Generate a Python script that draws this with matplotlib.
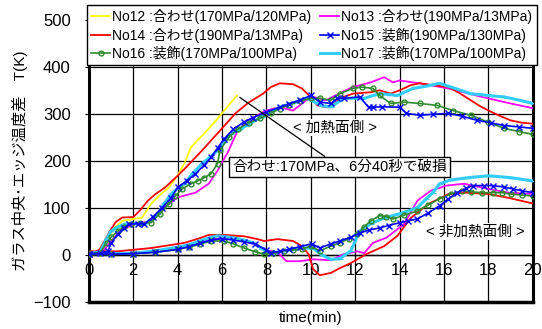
import numpy as np
import matplotlib
matplotlib.use("Agg")
import matplotlib.pyplot as plt

plt.rcParams["font.family"] = ["Liberation Sans", "Noto Sans CJK JP", "DejaVu Sans"]

# --- measured temperature differences (time in min, dT in K) ---
# each specimen: heated-side curve (upper) and unheated-side curve (lower)
no12_hot_t = [0, 0.5, 0.9, 1.2, 1.5, 2.0, 2.4, 2.8, 3.2, 3.6, 4.0, 4.3, 4.6, 5.2, 5.6, 6.0, 6.4, 6.67]
no12_hot_v = [4, 8, 40, 60, 73, 77, 80, 109, 128, 144, 170, 195, 230, 259, 280, 302, 325, 340]
no12_cold_t = [0, 2, 4, 5, 6, 6.67]
no12_cold_v = [3, 4, 15, 28, 38, 38]

no13_hot_t = [0, 0.6, 1.0, 1.5, 2.1, 2.8, 3.4, 4.0, 4.8, 5.4, 5.8, 6.3, 6.67, 7.2, 8.0, 8.6, 9.2, 9.8,
              10.1, 10.7, 11.3, 11.9, 12.7, 13.3, 13.7, 14.0, 14.9, 16.2, 17.7, 19.0, 20]
no13_hot_v = [4, 6, 30, 55, 66, 73, 101, 123, 133, 152, 180, 223, 262, 288, 308, 315, 308, 330,
              337, 330, 345, 358, 368, 379, 368, 372, 366, 355, 337, 323, 313]
no13_cold_t = [0, 2, 4, 5, 6, 6.5, 7.0, 7.5, 8.0, 8.5, 8.9, 9.5, 10.1, 10.9, 11.5, 12.1, 12.4, 12.8,
               13.4, 14.2, 14.8, 15.4, 16.1, 16.9, 18.0, 18.9, 20]
no13_cold_v = [3, 4, 15, 28, 37, 34, 30, 22, 10, 6, -13, -13, -9, -11, 2, 8, 4, 26,
               37, 66, 116, 137, 148, 152, 141, 133, 130]

no14_hot_t = [0, 0.3, 0.5, 0.95, 1.2, 1.5, 2.0, 2.3, 2.66, 3.0, 3.43, 4.0, 4.4, 4.8, 5.2, 5.5, 6.0, 6.6,
              7.2, 7.85, 8.2, 8.6, 9.2, 9.6, 10.0, 10.3, 10.7, 10.9, 11.3, 11.9, 12.7, 13.1, 13.6,
              14.0, 14.5, 14.9, 15.5, 16.2, 16.7, 17.2, 17.6, 18.0, 18.5, 19.0, 19.5, 20]
no14_hot_v = [5, 6, 13, 51, 70, 80, 81, 95, 116, 130, 144, 169, 188, 208, 228, 244, 270, 302,
              325, 344, 358, 366, 364, 355, 336, 319, 315, 315, 334, 344, 347, 351, 344,
              351, 362, 366, 362, 358, 345, 330, 318, 308, 297, 287, 282, 280]
no14_cold_t = [0, 1.3, 2.8, 4.3, 5.0, 5.4, 6.1, 7.0, 7.6, 7.9, 8.5, 9.2, 9.6, 9.9, 10.1, 10.4, 10.9,
               11.3, 11.8, 12.5, 13.3, 13.9, 14.5, 15.3, 16.2, 17.0, 18.0, 18.9, 20]
no14_cold_v = [8, 8, 15, 26, 36, 43, 43, 40, 34, 30, 34, 30, 19, 2, -30, -43, -38,
               -28, -17, 2, 19, 41, 79, 109, 130, 133, 130, 122, 110]

no15_hot_t = [0, 0.5, 0.85, 1.0, 1.3, 1.6, 1.8, 2.2, 2.5, 2.9, 3.3, 3.7, 4.0, 4.4, 4.8, 5.2, 5.5, 5.8,
              6.1, 6.5, 7.0, 7.4, 8.0, 8.6, 9.0, 9.5, 10.0, 10.4, 10.9, 11.2, 11.5, 12.2, 12.6,
              12.8, 13.2, 14.0, 14.3, 14.9, 15.5, 16.2, 16.8, 17.5, 18.1, 18.7, 19.4, 20]
no15_hot_v = [3, 4, 8, 25, 45, 58, 66, 67, 66, 82, 101, 122, 144, 158, 173, 192, 208, 228,
              248, 268, 284, 293, 305, 315, 322, 330, 340, 326, 323, 334, 334, 337, 315,
              315, 316, 315, 302, 298, 300, 302, 296, 287, 282, 276, 273, 270]
no15_cold_t = [0, 1, 2, 3, 4, 4.5, 5, 5.5, 6, 6.5, 7, 7.5, 8, 8.2, 8.6, 9, 9.5, 10.05, 10.4, 10.9,
               11.3, 11.8, 12.2, 12.6, 13.1, 13.5, 14.0, 14.4, 14.8, 15.3, 15.8, 16.2, 16.6,
               17.0, 17.3, 17.8, 18.2, 18.7, 19.1, 19.5, 20]
no15_cold_v = [3, 2, 3, 6, 12, 18, 25, 32, 35, 32, 28, 24, 10, 5, 8, 12, 18, 24, 15, 24,
               30, 38, 47, 53, 58, 63, 69, 73, 77, 90, 105, 120, 133,
               142, 148, 148, 148, 145, 141, 137, 133]

no16_hot_t = [0, 0.5, 0.8, 1.0, 1.3, 1.6, 1.9, 2.3, 2.8, 3.2, 3.6, 3.9, 4.2, 4.6, 4.9, 5.2, 5.5, 5.8,
              5.9, 6.3, 6.7, 7.2, 7.7, 8.2, 8.6, 9.0, 9.5, 10.0, 10.4, 10.9, 11.3, 11.9, 12.3,
              12.8, 13.1, 13.6, 14.2, 14.9, 15.7, 16.4, 17.2, 18.0, 18.7, 19.4, 20]
no16_hot_v = [3, 5, 25, 38, 51, 60, 66, 68, 69, 88, 109, 126, 141, 152, 158, 165, 173, 195,
              223, 251, 268, 282, 291, 302, 312, 320, 328, 334, 334, 330, 344, 355, 358,
              355, 340, 323, 326, 323, 319, 308, 298, 283, 270, 263, 257]
no16_cold_t = [0, 1, 2, 3, 4, 4.5, 5, 5.5, 6.1, 6.5, 7.0, 7.5, 7.9, 8.3, 8.8, 9.2, 9.6, 10.0, 10.4,
               10.9, 11.3, 11.7, 12.1, 12.4, 12.7, 13.1, 13.4, 13.7, 14.2, 14.8, 15.3, 15.8,
               16.3, 16.8, 17.2, 17.7, 18.2, 18.6, 19.0, 19.5, 20]
no16_cold_v = [3, 2, 3, 6, 12, 17, 23, 30, 30, 24, 15, 7, 2, 4, 9, 11, 13, 19, 9,
               19, 26, 35, 45, 60, 73, 84, 82, 77, 85, 94, 107, 120,
               130, 137, 135, 133, 133, 133, 130, 128, 126]

no17_hot_t = [0, 0.5, 0.8, 1.0, 1.3, 1.6, 2.0, 2.5, 3.1, 3.4, 3.7, 4.0, 4.3, 4.7, 5.1, 5.5, 5.8, 6.1,
              6.4, 6.8, 7.1, 7.8, 8.6, 9.2, 9.8, 10.0, 10.5, 10.9, 11.5, 12.4, 13.1, 13.9, 14.6,
              15.2, 15.8, 16.5, 17.2, 18.0, 18.7, 19.4, 20]
no17_hot_v = [4, 6, 35, 51, 60, 66, 67, 66, 87, 110, 130, 142, 152, 175, 195, 210, 223, 240,
              259, 268, 276, 295, 315, 324, 334, 330, 318, 316, 334, 334, 344, 340, 355,
              360, 366, 355, 344, 340, 337, 330, 323]
no17_cold_t = [0, 1, 2, 3, 4, 4.5, 5, 5.5, 5.8, 6.2, 6.6, 7.0, 7.4, 7.8, 8.2, 8.8, 9.2, 9.6, 10.1,
               10.5, 10.9, 11.3, 11.8, 12.2, 12.7, 13.3, 14.0, 14.8, 15.2, 15.5, 15.8, 16.3,
               17.1, 18.0, 19.0, 20]
no17_cold_v = [3, 3, 4, 9, 17, 22, 30, 38, 41, 39, 36, 32, 26, 14, 4, 9, 12, 15, 15,
               0, -9, -8, 9, 51, 67, 79, 88, 101, 120, 133, 152, 160,
               165, 169, 165, 158]

labels = [
    "No12 :合わせ(170MPa/120MPa)",
    "No13 :合わせ(190MPa/13MPa)",
    "No14 :合わせ(190MPa/13MPa)",
    "No15 :装飾(190MPa/130MPa)",
    "No16 :装飾(170MPa/100MPa)",
    "No17 :装飾(170MPa/100MPa)",
]

series = [
    (no12_hot_t, no12_hot_v, no12_cold_t, no12_cold_v),
    (no13_hot_t, no13_hot_v, no13_cold_t, no13_cold_v),
    (no14_hot_t, no14_hot_v, no14_cold_t, no14_cold_v),
    (no15_hot_t, no15_hot_v, no15_cold_t, no15_cold_v),
    (no16_hot_t, no16_hot_v, no16_cold_t, no16_cold_v),
    (no17_hot_t, no17_hot_v, no17_cold_t, no17_cold_v),
]

styles = [
    dict(color="#FFFF00", lw=1.3, zorder=3),
    dict(color="#FF00FF", lw=1.3, zorder=3),
    dict(color="#FF0000", lw=1.3, zorder=4),
    dict(color="#0000FF", lw=1.2, marker="x", ms=4, mew=1.0, zorder=6),
    dict(color="#2E8B2E", lw=1.2, marker="o", ms=3.5, mfc="none", mew=1.0, zorder=5),
    dict(color="#33CCFF", lw=2.2, marker="_", ms=4, zorder=4),
]

fig = plt.figure(figsize=(5.42, 3.29), dpi=100)
ax = fig.add_axes([0.164, 0.082, 0.819, 0.856])

handles = []
for (ht, hv, ct, cv), st, lab in zip(series, styles, labels):
    h, = ax.plot(ht, hv, label=lab, **st)
    ax.plot(ct, cv, **st)
    handles.append(h)

ax.set_xlim(0, 20)
ax.set_ylim(-100, 500)
ax.set_xticks(np.arange(0, 21, 2))
ax.set_yticks(np.arange(-100, 501, 100))
ax.grid(True, color="black", lw=0.9)
ax.set_axisbelow(True)

# x axis crosses at 0; outer frame kept as thick lines
ax.spines["bottom"].set_position(("data", 0))
ax.spines["bottom"].set_linewidth(1.0)
ax.spines["top"].set_visible(False)
for side in ("left", "right"):
    ax.spines[side].set_linewidth(2.2)
ax.axhline(-100, color="black", lw=2.5, clip_on=False, zorder=7)

ax.tick_params(axis="x", direction="inout", length=5, labelsize=12, pad=3)
ax.tick_params(axis="y", direction="out", length=3, labelsize=12, pad=10)

fig.text(0.574, 0.033, "time(min)", fontsize=11, ha="center", va="center")
ax.set_ylabel("ガラス中央･エッジ温度差　T(K)", fontsize=11, labelpad=4)

ax.text(11.1, 272, "< 加熱面側 >", fontsize=10.5, ha="center", va="center",
        bbox=dict(facecolor="white", edgecolor="none", pad=1), zorder=8)
ax.text(17.4, 51, "< 非加熱面側 >", fontsize=10.5, ha="center", va="center",
        bbox=dict(facecolor="white", edgecolor="none", pad=1), zorder=8)
ax.annotate("合わせ:170MPa、6分40秒で破損", xy=(6.8, 336), xytext=(11.3, 188),
            fontsize=10.5, ha="center", va="center",
            bbox=dict(boxstyle="square,pad=0.2", facecolor="white", edgecolor="black", lw=1),
            arrowprops=dict(arrowstyle="-", color="black", lw=0.9, shrinkA=0, shrinkB=0),
            zorder=9)

order = [0, 2, 4, 1, 3, 5]
leg = fig.legend([handles[i] for i in order], [labels[i] for i in order],
                 ncol=2, loc="upper left", bbox_to_anchor=(0.16, 0.985),
                 fontsize=10, frameon=True, fancybox=False, edgecolor="black",
                 framealpha=1, handlelength=1.4, handletextpad=0.15,
                 columnspacing=0.6, labelspacing=0.25, borderpad=0.3,
                 borderaxespad=0)
leg.get_frame().set_linewidth(1.0)
leg.set_zorder(10)

fig.savefig("out.png", dpi=100)
